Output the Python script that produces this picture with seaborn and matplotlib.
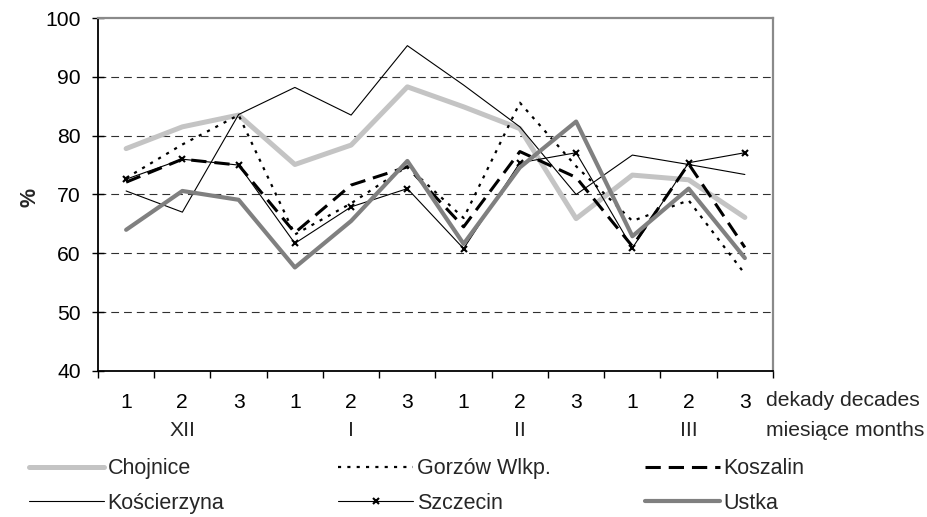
import matplotlib
matplotlib.use("Agg")
import matplotlib.pyplot as plt
import seaborn as sns
import pandas as pd
import numpy as np
from matplotlib.ticker import FixedLocator

# ---- data ----
decades = ["1", "2", "3", "1", "2", "3", "1", "2", "3", "1", "2", "3"]
months = ["XII", "I", "II", "III"]
chojnice = [77.8, 81.5, 83.5, 75.1, 78.4, 88.3, 84.9, 81.2, 65.9, 73.3, 72.5, 66.1]
gorzow = [72.8, 78.5, 83.5, 63.2, 68.5, 74.8, 66.0, 85.6, 74.8, 65.5, 69.0, 56.5]
koszalin = [72.1, 76.0, 75.0, 63.5, 71.6, 74.7, 64.5, 77.3, 72.9, 61.2, 75.2, 61.0]
koscierzyna = [70.6, 67.0, 83.6, 88.2, 83.5, 95.3, 88.6, 81.5, 70.0, 76.7, 75.1, 73.4]
szczecin = [72.6, 76.0, 75.0, 61.7, 67.9, 71.0, 60.8, 75.4, 77.1, 60.9, 75.4, 77.1]
ustka = [64.0, 70.6, 69.1, 57.6, 65.5, 75.7, 61.6, 74.6, 82.4, 62.9, 71.0, 59.2]
yticks = [40, 50, 60, 70, 80, 90, 100]

series = {
    "Chojnice": chojnice,
    "Gorzów Wlkp.": gorzow,
    "Koszalin": koszalin,
    "Kościerzyna": koscierzyna,
    "Szczecin": szczecin,
    "Ustka": ustka,
}

styles = {
    "Chojnice": dict(color="#c4c4c4", lw=3.6, ls="-"),
    "Gorzów Wlkp.": dict(color="black", lw=1.6, ls=(0, (1.4, 2.8))),
    "Koszalin": dict(color="black", lw=2.2, ls=(0, (5, 2.6))),
    "Kościerzyna": dict(color="black", lw=0.8, ls="-"),
    "Szczecin": dict(color="black", lw=0.8, ls="-", marker="x", ms=4, mew=1.5),
    "Ustka": dict(color="#808080", lw=3.0, ls="-"),
}

sns.set_theme(style="white")
plt.rcParams["font.family"] = ["Liberation Sans", "DejaVu Sans"]

W, H = 928, 517
fig = plt.figure(figsize=(W / 100, H / 100), dpi=100)
ax = fig.add_axes([98 / W, 1 - 371 / H, (773 - 98) / W, (371 - 18) / H])

x = np.arange(len(decades))
handles = {}
for name, vals in series.items():
    st = dict(styles[name])
    df = pd.DataFrame({"x": x, "y": vals})
    extra = {}
    if "marker" in st:
        extra = dict(marker=st.pop("marker"), markersize=st.pop("ms"),
                     markeredgewidth=st.pop("mew"), markeredgecolor="black",
                     markerfacecolor="black")
    sns.lineplot(data=df, x="x", y="y", ax=ax, color=st.pop("color"),
                 linewidth=st.pop("lw"), linestyle=st.pop("ls"),
                 label=name, legend=False, zorder=3, **extra)
    handles[name] = ax.get_lines()[-1]

ax.set_xlim(-0.5, len(decades) - 0.5)
ax.set_ylim(40, 100)
ax.set_xlabel("")
ax.set_ylabel("")

FS = 15.2

# y axis
ax.set_yticks(yticks)
ax.set_yticklabels([str(v) for v in yticks], fontsize=FS, color="black")
ax.tick_params(axis="y", which="major", direction="inout", length=8.5, width=1,
               color="black", pad=8, left=True)
ax.yaxis.grid(True, color="#303030", linestyle=(0, (7, 4.5)), linewidth=0.8, zorder=1)
gl = ax.yaxis.get_gridlines()
gl[0].set_visible(False)
gl[-1].set_visible(False)

# x axis
ax.set_xticks(x)
ax.set_xticklabels(decades, fontsize=FS, color="black")
ax.xaxis.set_minor_locator(FixedLocator(np.arange(-0.5, len(decades), 1.0)))
ax.tick_params(axis="x", which="major", length=0, pad=16)
ax.tick_params(axis="x", which="minor", direction="out", length=5, width=1,
               color="black", bottom=True)

for i, m in enumerate(months):
    ax.annotate(m, xy=(3 * i + 1, 0), xycoords=("data", "axes fraction"),
                xytext=(0, -59), textcoords="offset pixels",
                ha="center", va="center", fontsize=FS)

fig.text(766 / W, 1 - 401 / H, "dekady decades", ha="left", va="center", fontsize=FS)
fig.text(766 / W, 1 - 430 / H, "miesiące months", ha="left", va="center", fontsize=FS)
fig.text(30 / W, 1 - 197 / H, "%", ha="center", va="center", rotation=90,
         fontsize=15.5, fontweight="bold")

# spines
for s in ["left", "bottom"]:
    ax.spines[s].set_color("black")
    ax.spines[s].set_linewidth(1.3)
for s in ["top", "right"]:
    ax.spines[s].set_color("#8a8a8a")
    ax.spines[s].set_linewidth(1.6)
for sp in ax.spines.values():
    sp.set_zorder(5)

# legend: three columns placed individually
cols = [["Chojnice", "Kościerzyna"], ["Gorzów Wlkp.", "Szczecin"], ["Koszalin", "Ustka"]]
col_x = [29, 338, 645]
for names, cx in zip(cols, col_x):
    leg = fig.legend([handles[n] for n in names], names, loc="center left",
                     bbox_to_anchor=(cx / W, 1 - 486 / H), frameon=False,
                     fontsize=15.5, handlelength=3.5, handletextpad=0.15,
                     labelspacing=0.62, borderpad=0, borderaxespad=0,
                     markerscale=1.0)

fig.savefig("out.png", dpi=100)
